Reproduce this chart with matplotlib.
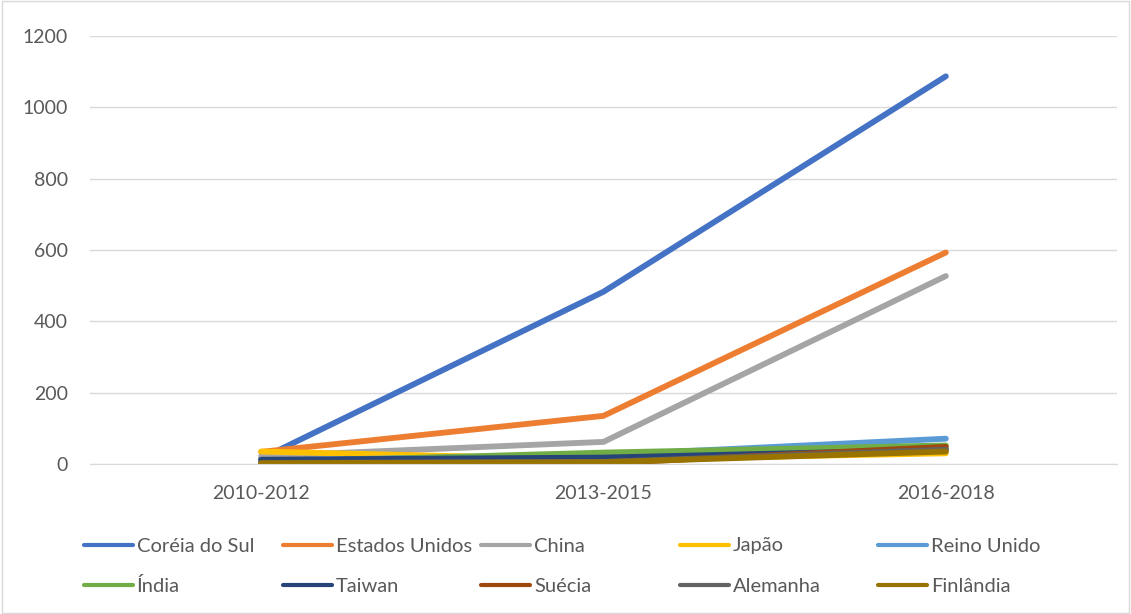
import matplotlib.pyplot as plt
from matplotlib.lines import Line2D
from matplotlib.patches import Rectangle

periods = ["2010-2012", "2013-2015", "2016-2018"]

coreia = [15, 483, 1087]
eua = [34, 135, 593]
china = [22, 62, 527]
japao = [35, 12, 30]
reino_unido = [10, 25, 71]
india = [5, 32, 52]
taiwan = [12, 18, 40]
suecia = [2, 2, 48]
alemanha = [3, 6, 40]
finlandia = [2, 5, 35]

series = [
    ("Coréia do Sul", coreia, "#4472C4"),
    ("Estados Unidos", eua, "#ED7D31"),
    ("China", china, "#A5A5A5"),
    ("Japão", japao, "#FFC000"),
    ("Reino Unido", reino_unido, "#5B9BD5"),
    ("Índia", india, "#70AD47"),
    ("Taiwan", taiwan, "#264478"),
    ("Suécia", suecia, "#9E480E"),
    ("Alemanha", alemanha, "#636363"),
    ("Finlândia", finlandia, "#997300"),
]

plt.rcParams['font.family'] = ['Lato', 'DejaVu Sans']

W, H = 1131, 614
fig = plt.figure(figsize=(W / 100, H / 100), dpi=100)
ax = fig.add_axes([90 / W, 1 - 464 / H, 1027 / W, 428 / H])

x = list(range(len(periods)))
for name, vals, col in series:
    ax.plot(x, vals, color=col, lw=4.2, solid_capstyle='round',
            solid_joinstyle='round', label=name)

ax.set_xlim(-0.5, 2.5)
ax.set_ylim(0, 1200)
ax.set_yticks(range(0, 1201, 200))
ax.set_xticks(x)
ax.set_xticklabels(periods)
ax.grid(axis='y', color='#D9D9D9', lw=1)
ax.set_axisbelow(True)
for s in ['top', 'right', 'left']:
    ax.spines[s].set_visible(False)
ax.spines['bottom'].set_color('#D9D9D9')
ax.tick_params(length=0, labelsize=14, colors='#595959')
ax.tick_params(axis='x', pad=15)
ax.tick_params(axis='y', pad=16)

# legend laid out row by row, five entries per row
for i, (name, vals, col) in enumerate(series):
    row, c = divmod(i, 5)
    x0 = 84 + c * 198.5
    y0 = 545 + row * 40
    fig.add_artist(Line2D([x0 / W, (x0 + 49) / W], [1 - y0 / H, 1 - y0 / H],
                          color=col, lw=3, solid_capstyle='round'))
    fig.text((x0 + 53) / W, 1 - (y0 + 1) / H, name, fontsize=14.5,
             color='#595959', va='center', ha='left')

fig.add_artist(Rectangle((0.002, 0.002), 0.996, 0.996, transform=fig.transFigure,
                         fill=False, edgecolor='#D9D9D9', lw=1))

fig.savefig("out.png", dpi=100)
